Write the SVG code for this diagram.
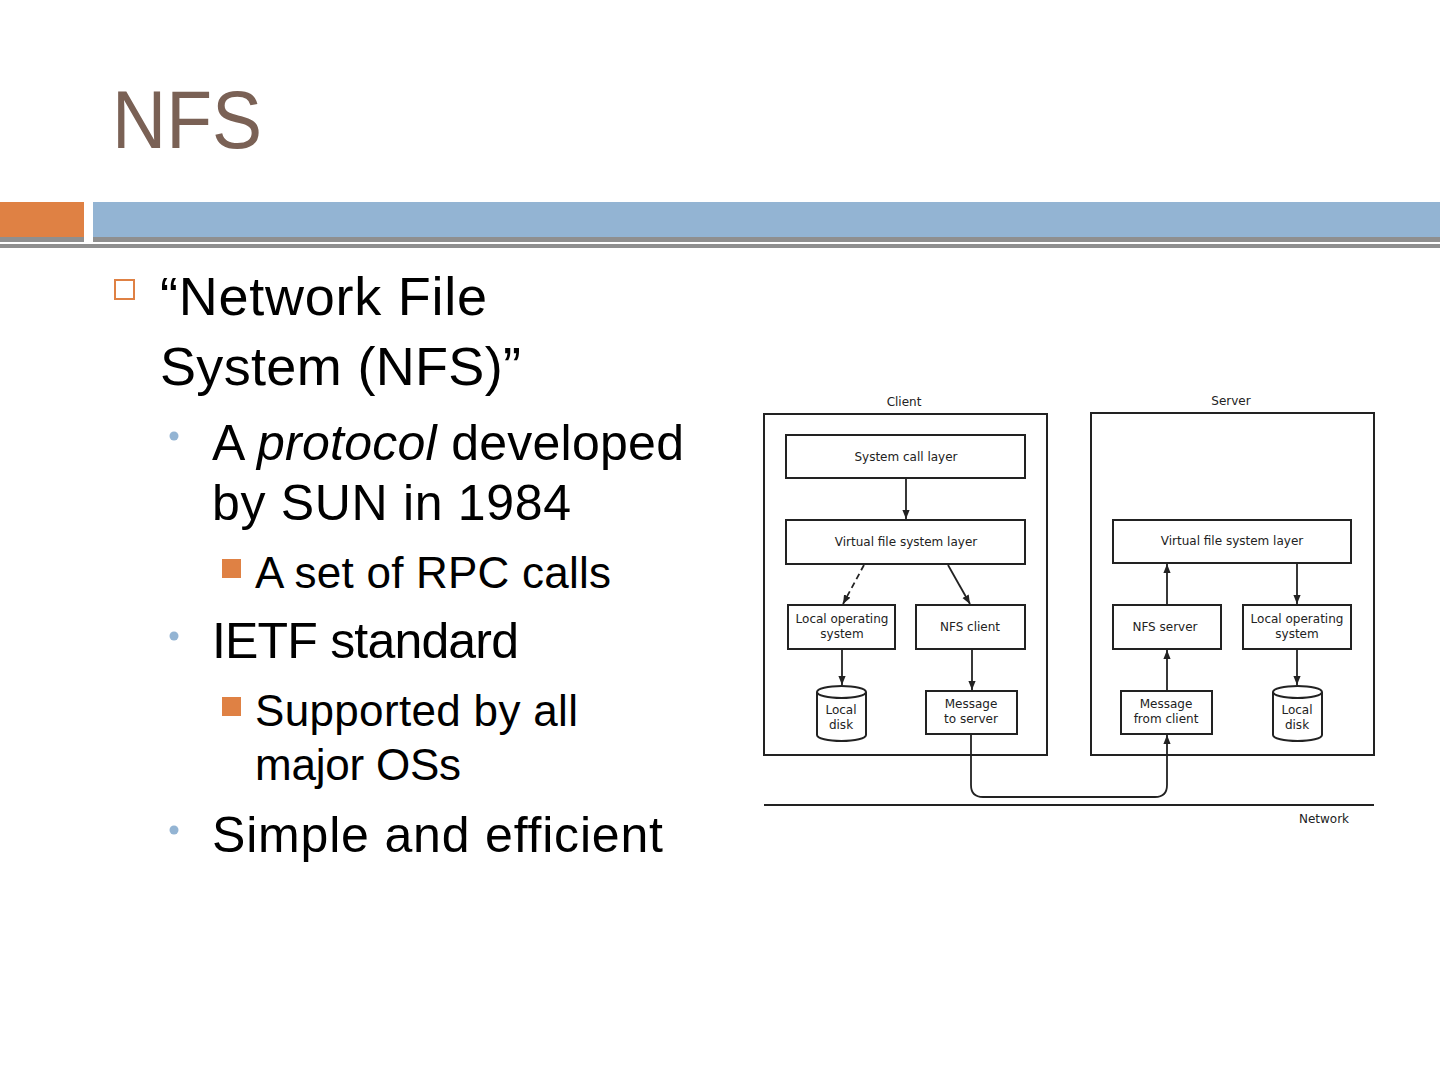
<svg xmlns="http://www.w3.org/2000/svg" width="1440" height="1080" viewBox="0 0 1440 1080">
<style>
.t{font-family:"Liberation Sans",Arial,sans-serif;fill:#000}
.l1{font-size:54px}
.l2{font-size:50px}
.l3{font-size:44px}
.box{fill:#fff;stroke:#222;stroke-width:2}
.frame{fill:none;stroke:#222;stroke-width:2}
.d{font-family:"DejaVu Sans","Liberation Sans",sans-serif;font-size:12px;fill:#222;text-anchor:middle}
.c{fill:none;stroke:#222;stroke-width:1.8}
</style>
<defs>
<marker id="ah" viewBox="0 0 10 10" refX="10" refY="5" markerWidth="9" markerHeight="9" markerUnits="userSpaceOnUse" orient="auto">
<path d="M0,1 L10,5 L0,9 Z" fill="#222"/>
</marker>
</defs>
<rect width="1440" height="1080" fill="#fff"/>
<text x="112" y="148" textLength="150" lengthAdjust="spacingAndGlyphs" style="font-family:'Liberation Sans',Arial,sans-serif;font-size:82px;fill:#7a6155">NFS</text>
<rect x="0" y="202" width="84" height="36" fill="#df8144"/>
<rect x="0" y="237" width="84" height="5" fill="#8f8f8f"/>
<rect x="93" y="202" width="1347" height="36" fill="#93b4d3"/>
<rect x="93" y="237" width="1347" height="5" fill="#8f8f8f"/>
<rect x="0" y="244" width="1440" height="4" fill="#8f8f8f"/>

<rect x="115" y="280" width="19" height="19" fill="none" stroke="#df8144" stroke-width="2"/>
<text class="t l1" x="160" y="315" textLength="327">“Network File</text>
<text class="t l1" x="160" y="385" textLength="361">System (NFS)”</text>
<circle cx="174" cy="436" r="4.5" fill="#93b4d3"/>
<text class="t l2" x="212" y="460" textLength="472">A <tspan font-style="italic">protocol</tspan> developed</text>
<text class="t l2" x="212" y="520" textLength="359">by SUN in 1984</text>
<rect x="222" y="559" width="19" height="19" fill="#df8144"/>
<text class="t l3" x="255" y="588" textLength="356">A set of RPC calls</text>
<circle cx="174" cy="636" r="4.5" fill="#93b4d3"/>
<text class="t l2" x="212" y="658" textLength="307">IETF standard</text>
<rect x="222" y="697" width="19" height="19" fill="#df8144"/>
<text class="t l3" x="255" y="726" textLength="323">Supported by all</text>
<text class="t l3" x="255" y="780" textLength="206">major OSs</text>
<circle cx="174" cy="830" r="4.5" fill="#93b4d3"/>
<text class="t l2" x="212" y="852" textLength="451">Simple and efficient</text>

<g id="client">
<text class="d" x="904" y="406">Client</text>
<rect class="frame" x="764" y="414" width="283" height="341"/>
</g>
<g id="server">
<text class="d" x="1231" y="405">Server</text>
<rect class="frame" x="1091" y="413" width="283" height="342"/>
</g>
<g id="c-syscall"><rect class="box" x="786" y="435" width="239" height="43"/><text class="d" x="906" y="461">System call layer</text></g>
<g id="c-vfs"><rect class="box" x="786" y="520" width="239" height="44"/><text class="d" x="906" y="546">Virtual file system layer</text></g>
<g id="c-los"><rect class="box" x="788" y="605" width="107" height="44"/><text class="d" x="842" y="623">Local operating</text><text class="d" x="842" y="638">system</text></g>
<g id="c-nfs"><rect class="box" x="916" y="605" width="109" height="44"/><text class="d" x="970" y="631">NFS client</text></g>
<g id="c-disk"><path class="box" d="M817,692 L817,735 A24.5,6 0 0 0 866,735 L866,692"/><ellipse class="box" cx="841.5" cy="692" rx="24.5" ry="6"/><text class="d" x="841" y="714">Local</text><text class="d" x="841" y="729">disk</text></g>
<g id="c-msg"><rect class="box" x="926" y="691" width="91" height="43"/><text class="d" x="971" y="708">Message</text><text class="d" x="971" y="723">to server</text></g>

<g id="s-vfs"><rect class="box" x="1113" y="520" width="238" height="43"/><text class="d" x="1232" y="545">Virtual file system layer</text></g>
<g id="s-nfs"><rect class="box" x="1113" y="605" width="108" height="44"/><text class="d" x="1165" y="631">NFS server</text></g>
<g id="s-los"><rect class="box" x="1243" y="605" width="108" height="44"/><text class="d" x="1297" y="623">Local operating</text><text class="d" x="1297" y="638">system</text></g>
<g id="s-msg"><rect class="box" x="1121" y="691" width="91" height="43"/><text class="d" x="1166" y="708">Message</text><text class="d" x="1166" y="723">from client</text></g>
<g id="s-disk"><path class="box" d="M1273,692 L1273,735 A24.5,6 0 0 0 1322,735 L1322,692"/><ellipse class="box" cx="1297.5" cy="692" rx="24.5" ry="6"/><text class="d" x="1297" y="714">Local</text><text class="d" x="1297" y="729">disk</text></g>

<g id="network">
<line x1="764" y1="805" x2="1374" y2="805" stroke="#222" stroke-width="2"/>
<text class="d" x="1324" y="823">Network</text>
</g>

<g id="connectors">
<line class="c" x1="906" y1="478" x2="906" y2="519" marker-end="url(#ah)"/>
<line class="c" x1="864" y1="565" x2="843" y2="604" stroke-dasharray="6,4" marker-end="url(#ah)"/>
<line class="c" x1="948" y1="565" x2="970" y2="604" marker-end="url(#ah)"/>
<line class="c" x1="842" y1="649" x2="842" y2="685" marker-end="url(#ah)"/>
<line class="c" x1="972" y1="649" x2="972" y2="690" marker-end="url(#ah)"/>
<path class="c" d="M971,734 L971,785 Q971,797 983,797 L1155,797 Q1167,797 1167,785 L1167,735" marker-end="url(#ah)"/>
<line class="c" x1="1167" y1="691" x2="1167" y2="650" marker-end="url(#ah)"/>
<line class="c" x1="1167" y1="605" x2="1167" y2="564" marker-end="url(#ah)"/>
<line class="c" x1="1297" y1="563" x2="1297" y2="604" marker-end="url(#ah)"/>
<line class="c" x1="1297" y1="649" x2="1297" y2="685" marker-end="url(#ah)"/>
</g>
</svg>
